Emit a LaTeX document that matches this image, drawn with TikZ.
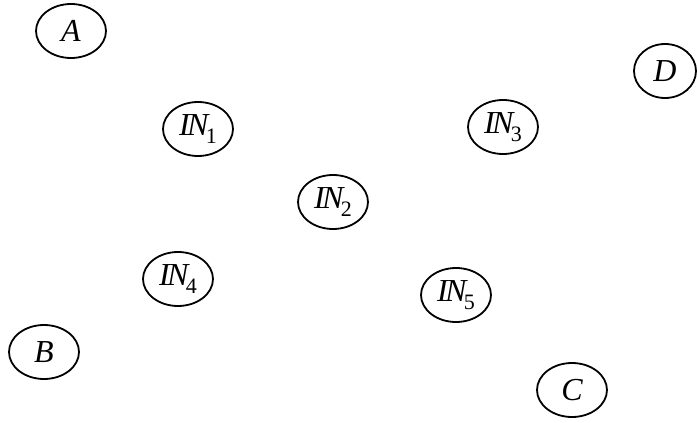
\documentclass[tikz,border=0pt]{standalone}
\usepackage{fontspec}
\setmainfont{Liberation Serif}
\usetikzlibrary{shapes.geometric}
\newcommand{\insub}[1]{\textit{I\kern-0.08em N}\kern-0.08em\raisebox{-0.55ex}{\upshape\fontsize{11}{11}\selectfont #1}}

\begin{document}
\begin{tikzpicture}[x=0.5pt, y=-0.5pt,
				state/.style={ellipse, draw, line width=0.9pt, minimum width=35pt, minimum height=27pt, inner sep=0pt, font=\fontsize{16}{16}\selectfont\itshape}]
				\useasboundingbox (0,0) rectangle (697,423);
				\node at (71,31) (a) [state] {A};
				\node at (665,71) (d) [state, minimum width=31pt] {D};
				\node at (198,129) (in1) [state] {\insub{1}};
				\node at (503,127) (in3) [state] {\insub{3}};
				\node at (333,202) (in2) [state] {\insub{2}};
				\node at (178,279) (in4) [state] {\insub{4}};
				\node at (456,295) (in5) [state] {\insub{5}};
				\node at (44,352) (b) [state] {B};
				\node at (572,390) (c) [state] {C};
			\end{tikzpicture}
\end{document}
